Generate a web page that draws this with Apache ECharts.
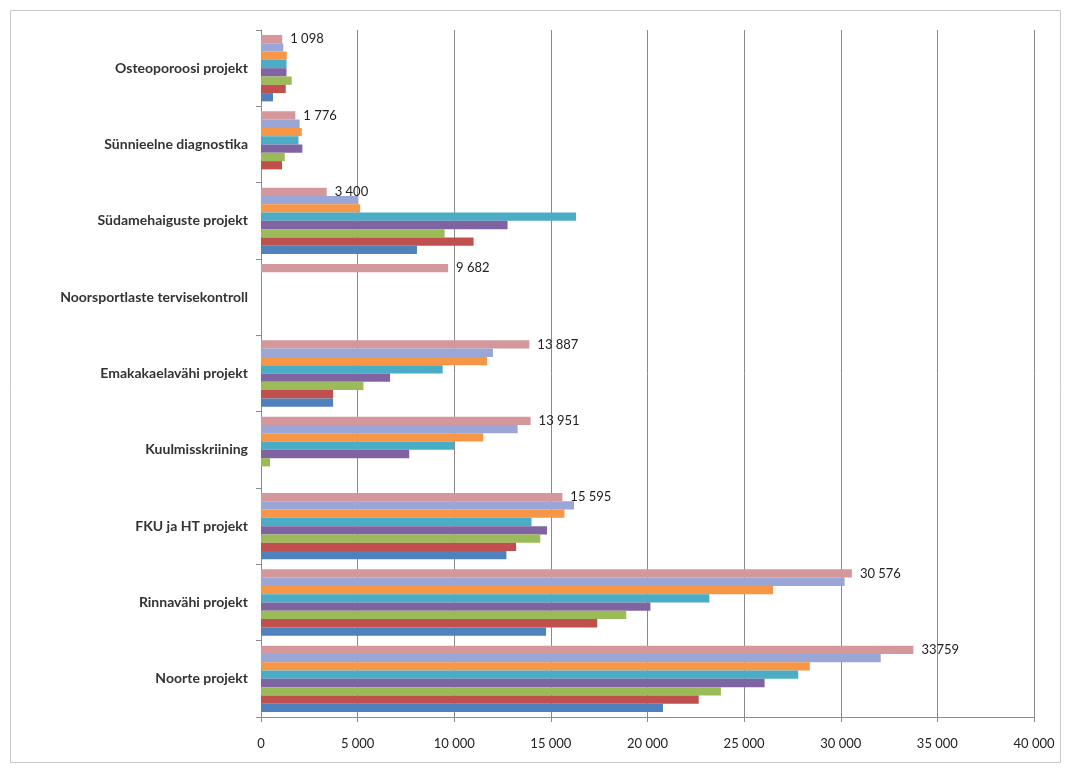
<!DOCTYPE html>
<html>
<head>
<meta charset="utf-8">
<style>
  html, body { margin: 0; padding: 0; background: #fff; }
  #main { width: 1065px; height: 769px; }
</style>
<script src="https://cdn.jsdelivr.net/npm/echarts@6/dist/echarts.min.js"></script>
</head>
<body>
<div id="main"></div>
<script>
// categories from bottom to top
var categories = ['Noorte projekt', 'Rinnavähi projekt', 'FKU ja HT projekt', 'Kuulmisskriining',
    'Emakakaelavähi projekt', 'Noorsportlaste tervisekontroll', 'Südamehaiguste projekt',
    'Sünnieelne diagnostika', 'Osteoporoosi projekt'];

var s1 = [20800, 14750, 12700, 0, 3730, 0, 8070, 0, 620];
var s2 = [22650, 17400, 13200, 0, 3730, 0, 11000, 1090, 1280];
var s3 = [23800, 18900, 14450, 470, 5300, 0, 9500, 1230, 1590];
var s4 = [26060, 20150, 14800, 7670, 6680, 0, 12760, 2140, 1320];
var s5 = [27800, 23200, 14000, 10000, 9400, 0, 16300, 1940, 1320];
var s6 = [28400, 26500, 15700, 11500, 11700, 0, 5130, 2110, 1330];
var s7 = [32070, 30200, 16200, 13280, 12000, 0, 5040, 2000, 1150];
var s8 = [33759, 30576, 15595, 13951, 13887, 9682, 3400, 1776, 1098];
var s8Labels = ['33759', '30 576', '15 595', '13 951', '13 887', '9 682', '3 400', '1 776', '1 098'];

var xTicks = ['0', '5 000', '10 000', '15 000', '20 000', '25 000', '30 000', '35 000', '40 000'];

var colors = ['#4f81bd', '#c0504d', '#9bbb59', '#8064a2', '#4bacc6', '#f79646', '#9aa6d6', '#d4979b'];
var allSeries = [s1, s2, s3, s4, s5, s6, s7, s8];

var chart = echarts.init(document.getElementById('main'));

// echarts stacks grouped horizontal bars top-down, so add the last series first
var series = [];
for (var i = allSeries.length - 1; i >= 0; i--) {
    var s = {
        name: 'Seeria ' + (i + 1),
        type: 'bar',
        data: allSeries[i],
        barGap: '0%',
        barCategoryGap: '13%',
        itemStyle: { color: colors[i] }
    };
    if (i === allSeries.length - 1) {
        s.label = {
            show: true,
            position: 'right',
            distance: 8,
            color: '#222',
            fontFamily: 'Lato',
            fontSize: 13,
            formatter: function (p) { return s8Labels[p.dataIndex]; }
        };
    }
    series.push(s);
}

var option = {
    backgroundColor: '#fff',
    animation: false,
    textStyle: { fontFamily: 'Lato' },
    graphic: [{
        type: 'rect',
        shape: { x: 10.5, y: 10.5, width: 1050, height: 752 },
        style: { fill: 'none', stroke: '#c8c8c8', lineWidth: 1 },
        z: -1
    }],
    grid: { left: 261, right: 31, top: 30, bottom: 52 },
    xAxis: {
        type: 'value',
        min: 0,
        max: 40000,
        interval: 5000,
        axisLine: { show: true, lineStyle: { color: '#8a8a8a' } },
        axisTick: { show: true, length: 5, lineStyle: { color: '#8a8a8a' } },
        axisLabel: {
            color: '#222', fontSize: 13, margin: 20,
            formatter: function (v) { return xTicks[Math.round(v / 5000)]; }
        },
        splitLine: { show: true, lineStyle: { color: '#8a8a8a' } }
    },
    yAxis: {
        type: 'category',
        data: categories,
        axisLine: { show: true, lineStyle: { color: '#8a8a8a' } },
        axisTick: { show: true, length: 5, lineStyle: { color: '#8a8a8a' } },
        axisLabel: { color: '#333', fontSize: 14, fontWeight: 'bold', margin: 13 }
    },
    series: series
};

chart.setOption(option);
window.addEventListener('resize', function () { chart.resize(); });
</script>
</body>
</html>
